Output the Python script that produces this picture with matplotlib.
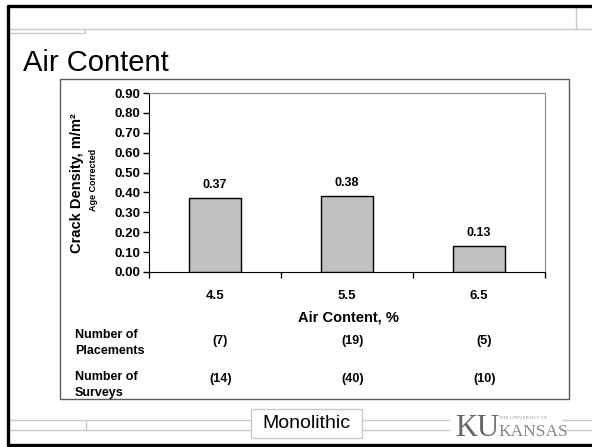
import numpy as np, matplotlib
matplotlib.use('Agg')
import matplotlib.pyplot as plt
from matplotlib.lines import Line2D
from matplotlib.patches import Rectangle

plt.rcParams.update({'font.family': ['Liberation Sans', 'DejaVu Sans'], 'font.size': 9})

W, H = 592, 447
air = ['4.5', '5.5', '6.5']
density = [0.37, 0.38, 0.13]
placements = ['(7)', '(19)', '(5)']
surveys = ['(14)', '(40)', '(10)']
yticks = [0.0, 0.1, 0.2, 0.3, 0.4, 0.5, 0.6, 0.7, 0.8, 0.9]

LINE = '#c8c8c8'; BOX = '#5a5a5a'

def fx(x): return x / W
def fy(y): return 1 - y / H

fig = plt.figure(figsize=(W / 100, H / 100), dpi=100)
fig.patch.set_facecolor('white')

def hline(y, x0, x1, color=LINE, lw=1.0, z=1):
    fig.add_artist(Line2D([fx(x0), fx(x1)], [fy(y), fy(y)], transform=fig.transFigure,
                          color=color, lw=lw, zorder=z, solid_capstyle='butt'))

def vline(x, y0, y1, color=LINE, lw=1.0, z=1):
    fig.add_artist(Line2D([fx(x), fx(x)], [fy(y0), fy(y1)], transform=fig.transFigure,
                          color=color, lw=lw, zorder=z, solid_capstyle='butt'))

# slide frame and decorative rules
hline(6, 7, W, color='black', lw=2.4, z=5)
vline(8, 5, 446, color='black', lw=2.4, z=5)
hline(445, 7, W, color='black', lw=2.4, z=5)
hline(29, 8, W); vline(576, 6, 29)
hline(33, 8, 85); vline(85, 29, 33)
hline(420, 8, W); hline(430, 8, W); vline(86, 420, 430)

fig.text(fx(23), fy(71), 'Air Content', fontsize=21, ha='left', va='baseline')

# chart border
fig.add_artist(Rectangle((fx(60), fy(399)), fx(569) - fx(60), fy(79) - fy(399),
                         transform=fig.transFigure, fill=False, edgecolor=BOX, lw=1.0, zorder=2))

ax = fig.add_axes([fx(149), fy(272), fx(545) - fx(149), fy(93) - fy(272)])
x = np.arange(len(air)) + 0.5
bars = ax.bar(x, density, 0.40, color='#c0c0c0', edgecolor='black', linewidth=1.0, zorder=3)
for xi, v in zip(x, density):
    ax.annotate(f'{v:.2f}', (xi, v), xytext=(0, 5), textcoords='offset points',
                ha='center', va='bottom', fontsize=9, fontweight='bold')

ax.set_xlim(0, len(air)); ax.set_ylim(0, 0.9)
ax.set_yticks(yticks)
ax.set_yticklabels([f'{t:.2f}' for t in yticks], fontweight='bold', fontsize=9.5)
ax.set_xticks(np.arange(len(air) + 1))
ax.set_xticklabels([])
ax.set_xticks(x, minor=True)
ax.set_xticklabels(air, minor=True, fontweight='bold', fontsize=9.5)
ax.tick_params(axis='x', which='major', direction='out', length=4, width=1)
ax.tick_params(axis='x', which='minor', length=0, pad=13)
ax.tick_params(axis='y', direction='out', length=4, width=1, pad=2)
for s in ['top', 'right']:
    ax.spines[s].set_color('#8c8c8c')
for s in ['left', 'bottom']:
    ax.spines[s].set_color('black')

fig.text(fx(77), fy(183), 'Crack Density, m/m²', rotation=90, fontsize=10.5,
         fontweight='bold', ha='center', va='center')
fig.text(fx(93), fy(180), 'Age Corrected', rotation=90, fontsize=6.5,
         fontweight='bold', ha='center', va='center')
fig.text(fx(348), fy(318), 'Air Content, %', fontsize=10.5, fontweight='bold',
         ha='center', va='center')

# counts table under the axis
fig.text(fx(75), fy(343), 'Number of\nPlacements', fontsize=9, fontweight='bold',
         ha='left', va='center', linespacing=1.45)
fig.text(fx(75), fy(385), 'Number of\nSurveys', fontsize=9, fontweight='bold',
         ha='left', va='center', linespacing=1.45)
for xi, p, s in zip(x, placements, surveys):
    xt = ax.transData.transform((xi + 0.04, 0))[0] / W
    fig.text(xt, fy(341), p, fontsize=9, fontweight='bold', ha='center', va='center')
    fig.text(xt, fy(379), s, fontsize=9, fontweight='bold', ha='center', va='center')

# footer label and logo
fig.add_artist(Rectangle((fx(251), fy(438)), fx(362) - fx(251), fy(409) - fy(438),
                         transform=fig.transFigure, facecolor='white', edgecolor='#c8c8c8',
                         lw=1.0, zorder=3))
fig.text(fx(306), fy(424), 'Monolithic', fontsize=14, ha='center', va='center', zorder=4)
fig.add_artist(Rectangle((fx(450), fy(442)), fx(562) - fx(450), fy(410) - fy(442),
                         transform=fig.transFigure, facecolor='white', edgecolor='none', zorder=3))
fig.text(fx(455), fy(436), 'KU', family='Liberation Serif', fontsize=22, color='#666666',
         ha='left', va='baseline', zorder=4)
fig.text(fx(499), fy(419), 'THE UNIVERSITY OF', family='Liberation Serif', fontsize=3.6,
         color='#999999', ha='left', va='baseline', zorder=4)
fig.text(fx(498), fy(436), 'KANSAS', family='Liberation Serif', fontsize=12.5, color='#888888',
         ha='left', va='baseline', zorder=4)

fig.savefig('out.png', dpi=100)
